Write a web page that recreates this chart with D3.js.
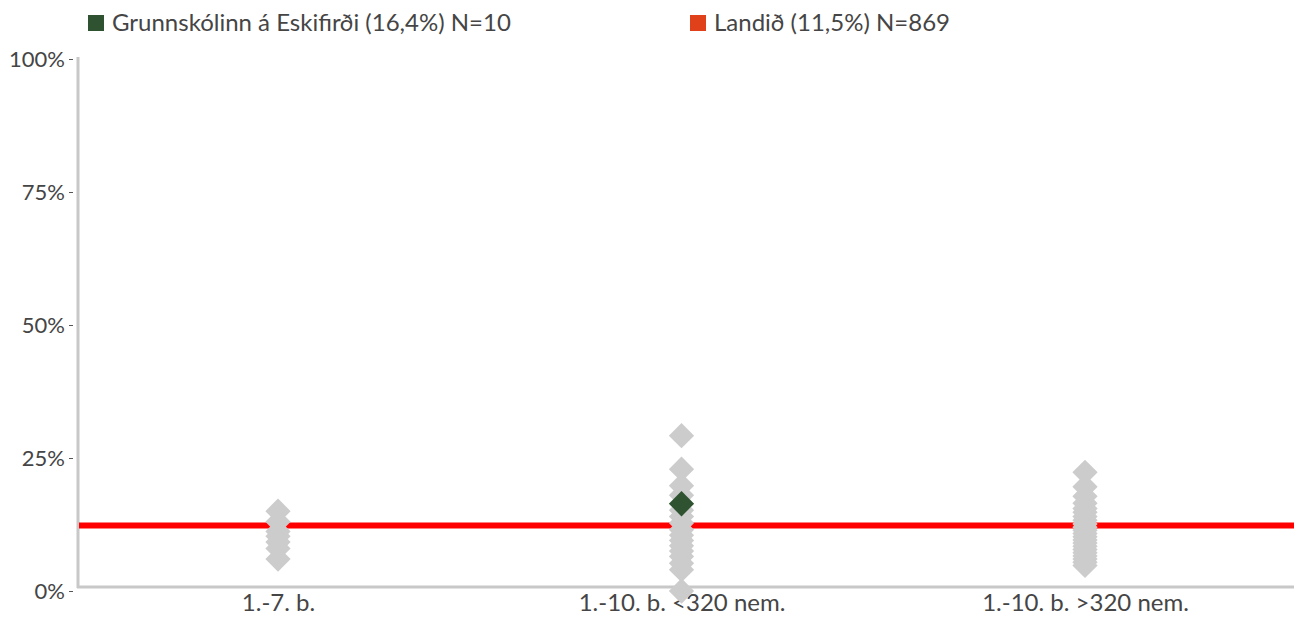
<!DOCTYPE html>
<html>
<head>
<meta charset="utf-8">
<script src="https://cdn.jsdelivr.net/npm/d3@7"></script>
<style>
  body { margin: 0; background: #fff; }
  text { font-family: Lato, "Noto Sans", sans-serif; }
</style>
</head>
<body>
<svg id="chart"></svg>
<script>
const categories = ["1.-7. b.", "1.-10. b. <320 nem.", "1.-10. b. >320 nem."];

// other schools, value in % per category
const schools1 = [15.0, 13.0, 11.2, 10.3, 9.2, 8.0, 6.0];
const schools2 = [29.2, 22.9, 19.8, 18.0, 15.2, 14.0, 12.8, 11.5, 10.5, 9.5, 8.5, 7.5, 6.5, 5.2, 4.0, 0.0];
const schools3 = [22.3, 19.6, 17.8, 16.5, 15.5, 14.8, 14.0, 13.3, 12.6, 12.0, 11.4, 10.8, 10.2, 9.6, 9.0, 8.4, 7.8, 7.2, 6.6, 6.0, 5.4, 4.8];

const schoolCategory = "1.-10. b. <320 nem.";
const schoolValue = 16.4;
const landLine = 12.3;

const yTicks = [0, 25, 50, 75, 100];
const legendLabels = ["Grunnskólinn á Eskifirði (16,4%) N=10", "Landið (11,5%) N=869"];
const legendColors = ["#2f5231", "#e0401a"];

const width = 1303;
const height = 623;

const svg = d3.select("#chart").attr("width", width).attr("height", height);

const x = d3.scalePoint().domain(categories).range([278, 1085]);
const y = d3.scaleLinear().domain([0, 100]).range([591, 59]);

const points = [];
[schools1, schools2, schools3].forEach((arr, i) => {
  arr.forEach((v) => points.push({ cat: categories[i], value: v }));
});

// axis lines
svg.append("line")
  .attr("x1", 78).attr("x2", 78)
  .attr("y1", y(100) - 2).attr("y2", 588)
  .attr("stroke", "#c8c8c8").attr("stroke-width", 3);

svg.append("line")
  .attr("x1", 77).attr("x2", 1294)
  .attr("y1", 587).attr("y2", 587)
  .attr("stroke", "#c8c8c8").attr("stroke-width", 3);

const yAxis = d3.axisLeft(y)
  .tickValues(yTicks)
  .tickSize(4)
  .tickPadding(4)
  .tickFormat((d) => d + "%");

const yAxisG = svg.append("g")
  .attr("transform", "translate(73,0)")
  .call(yAxis);
yAxisG.select(".domain").remove();
yAxisG.selectAll("line").attr("stroke", "#555");
yAxisG.selectAll("text")
  .attr("font-size", "22px")
  .attr("fill", "#454545");

const xAxis = d3.axisBottom(x).tickSize(0).tickPadding(0);
const xAxisG = svg.append("g")
  .attr("transform", "translate(0,595)")
  .call(xAxis);
xAxisG.select(".domain").remove();
xAxisG.selectAll("text")
  .attr("dy", "0.68em")
  .attr("font-size", "24px")
  .attr("fill", "#454545");

// country line
svg.append("line")
  .attr("x1", 79).attr("x2", 1294)
  .attr("y1", y(landLine)).attr("y2", y(landLine))
  .attr("stroke", "#ff0000").attr("stroke-width", 6);

const diamond = d3.symbol(d3.symbolSquare, 320);

svg.append("g")
  .selectAll("path")
  .data(points)
  .enter()
  .append("path")
  .attr("d", diamond)
  .attr("transform", (d) => "translate(" + x(d.cat) + "," + y(d.value) + ") rotate(45)")
  .attr("fill", "#cccccc");

svg.append("path")
  .attr("d", diamond)
  .attr("transform", "translate(" + x(schoolCategory) + "," + y(schoolValue) + ") rotate(45)")
  .attr("fill", legendColors[0]);

// legend
const legendX = [88, 690];
legendLabels.forEach((label, i) => {
  svg.append("rect")
    .attr("x", legendX[i]).attr("y", 15)
    .attr("width", 16).attr("height", 16)
    .attr("fill", legendColors[i]);
  svg.append("text")
    .attr("x", legendX[i] + 24).attr("y", 31)
    .attr("font-size", "24px")
    .attr("fill", "#454545")
    .text(label);
});
</script>
</body>
</html>
